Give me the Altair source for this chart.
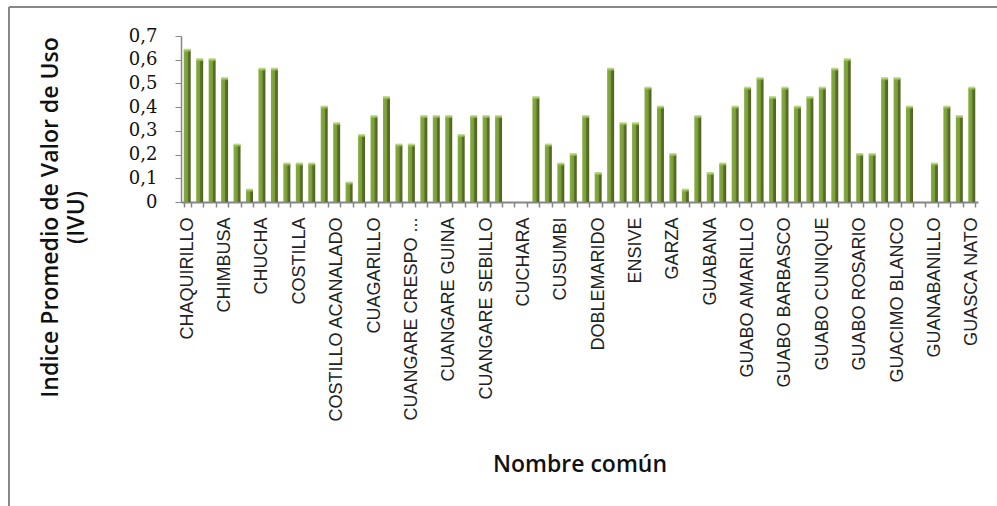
import json
import altair as alt
import pandas as pd

# IVU values for 64 species
ivu = [0.64, 0.60, 0.60, 0.52, 0.24, 0.05, 0.56, 0.56, 0.16, 0.16,
       0.16, 0.40, 0.33, 0.08, 0.28, 0.36, 0.44, 0.24, 0.24, 0.36,
       0.36, 0.36, 0.28, 0.36, 0.36, 0.36, 0.00, 0.00, 0.44, 0.24,
       0.16, 0.20, 0.36, 0.12, 0.56, 0.33, 0.33, 0.48, 0.40, 0.20,
       0.05, 0.36, 0.12, 0.16, 0.40, 0.48, 0.52, 0.44, 0.48, 0.40,
       0.44, 0.48, 0.56, 0.60, 0.20, 0.20, 0.52, 0.52, 0.40, 0.00,
       0.16, 0.40, 0.36, 0.48]

# Visible category labels (every third category is labelled)
shown_labels = ["CHAQUIRILLO", "CHIMBUSA", "CHUCHA", "COSTILLA",
                "COSTILLO ACANALADO", "CUAGARILLO", "CUANGARE CRESPO ...",
                "CUANGARE GUINA", "CUANGARE SEBILLO", "CUCHARA", "CUSUMBI",
                "DOBLEMARIDO", "ENSIVE", "GARZA", "GUABANA", "GUABO AMARILLO",
                "GUABO BARBASCO", "GUABO CUNIQUE", "GUABO ROSARIO",
                "GUACIMO BLANCO", "GUANABANILLO", "GUASCA NATO"]
label_step = 3

y_ticks = [0, 0.1, 0.2, 0.3, 0.4, 0.5, 0.6, 0.7]

n = len(ivu)
tick_text = [""] * n
for i, lab in enumerate(shown_labels):
    tick_text[i * label_step] = lab

df = pd.DataFrame({"idx": list(range(n)), "ivu": ivu})
label_expr = json.dumps(tick_text) + "[datum.value]"

W, H = 797, 166
LEFT, TOP = 181, 36

xenc = alt.X(
    "idx:O",
    scale=alt.Scale(paddingInner=0.44, paddingOuter=0.22),
    axis=alt.Axis(
        title="Nombre común",
        labelExpr=label_expr,
        labelAngle=-90,
        labelFont="Liberation Sans",
        labelFontSize=18,
        labelColor="#222222",
        labelPadding=10,
        labelOverlap=False,
        labelLimit=400,
        tickBand="extent",
        tickSize=5,
        tickColor="#868686",
        domainColor="#868686",
        domainWidth=2,
        tickWidth=1.5,
        titleFont="Open Sans",
        titleFontSize=23,
        titleFontWeight=600,
        titleColor="#111111",
        titleY=262,
        titleBaseline="middle",
    ),
)

yenc = alt.Y(
    "ivu:Q",
    scale=alt.Scale(domain=[0, 0.7], nice=False),
    axis=alt.Axis(
        title=["Indice Promedio de Valor de Uso", "(IVU)"],
        values=y_ticks,
        labelExpr="datum.value == 0 ? '0' : replace(format(datum.value, '.1f'), '.', ',')",
        labelFont="DejaVu Serif",
        labelFontSize=18,
        labelColor="#111111",
        labelPadding=18,
        labelOverlap=False,
        labelFlush=False,
        grid=False,
        tickSize=6,
        tickColor="#868686",
        domainColor="#868686",
        domainWidth=1.5,
        titleFont="Open Sans",
        titleFontSize=23,
        titleFontWeight=600,
        titleColor="#111111",
        titleAngle=-90,
        titleAlign="center",
        titleBaseline="top",
        titleX=-142,
        titleY=181,
        titleLineHeight=26,
    ),
)

grad = alt.Gradient(
    gradient="linear",
    stops=[
        alt.GradientStop(color="#88ad45", offset=0),
        alt.GradientStop(color="#789b36", offset=0.55),
        alt.GradientStop(color="#5c7427", offset=0.62),
        alt.GradientStop(color="#4c6020", offset=1),
    ],
    x1=0, x2=1, y1=0, y2=0,
)

base = alt.Chart(df).encode(x=xenc, y=yenc)

bars = base.mark_bar(color=grad)

caps = base.transform_filter("datum.ivu > 0").mark_tick(
    color="#9dc853", thickness=3, size=7
)

frame_left = alt.Chart(df).mark_rule(color="#888888", strokeWidth=2).encode(
    x=alt.value(9 - LEFT), y=alt.value(7 - TOP), y2=alt.value(506 - TOP)
)
frame_top = alt.Chart(df).mark_rule(color="#888888", strokeWidth=2).encode(
    x=alt.value(9 - LEFT), x2=alt.value(997 - LEFT), y=alt.value(7 - TOP)
)

chart = alt.layer(bars, caps, frame_left, frame_top).properties(
    width=W, height=H,
    autosize=alt.AutoSizeParams(type="none"),
    padding={"left": LEFT, "top": TOP, "right": 997 - LEFT - W, "bottom": 506 - TOP - H},
    background="white",
).configure_view(stroke=None)

chart.save("out.html", embed_options={"renderer": "svg", "actions": False})
